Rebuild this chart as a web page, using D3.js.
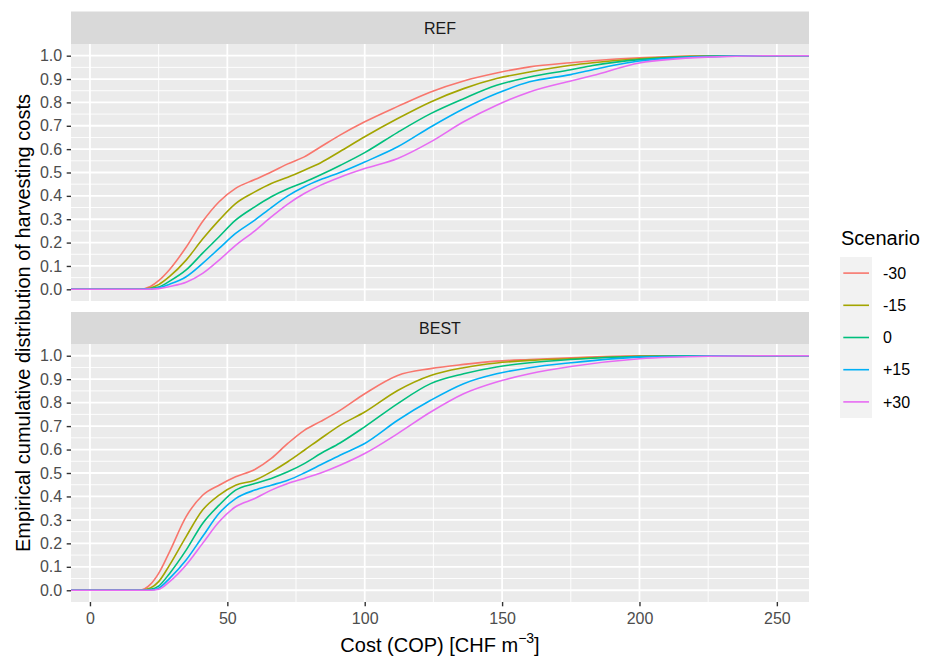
<!DOCTYPE html>
<html>
<head>
<meta charset="utf-8">
<script src="https://cdn.jsdelivr.net/npm/d3@7"></script>
<style>
  body { margin: 0; background: #fff; }
  svg { display: block; font-family: "Liberation Sans", Arial, sans-serif; }
</style>
</head>
<body>
<svg id="chart" width="936" height="659"></svg>
<script>
// ---- data ----
const scenarios = ["-30", "-15", "0", "+15", "+30"];
const colors = ["#F8766D", "#A3A500", "#00BF7D", "#00B0F6", "#E76BF3"];
const panels = ["REF", "BEST"];

const refX = [18, 22, 25, 29, 35, 41, 47, 53, 60, 66, 72, 78, 84, 91, 100, 112, 124, 136, 148, 160, 175, 183, 200, 225, 248];
const refM30 = [0, 0.012, 0.037, 0.085, 0.18, 0.29, 0.375, 0.432, 0.47, 0.502, 0.537, 0.567, 0.61, 0.66, 0.717, 0.783, 0.845, 0.892, 0.926, 0.952, 0.97, 0.978, 0.991, 1.0, 1.0];
const refM15 = [0, 0.006, 0.02, 0.055, 0.125, 0.215, 0.296, 0.367, 0.417, 0.453, 0.48, 0.51, 0.542, 0.59, 0.653, 0.731, 0.802, 0.859, 0.902, 0.93, 0.959, 0.97, 0.987, 0.998, 1.0];
const ref0   = [0, 0.003, 0.01, 0.035, 0.083, 0.155, 0.225, 0.296, 0.353, 0.396, 0.43, 0.458, 0.49, 0.53, 0.585, 0.672, 0.752, 0.816, 0.873, 0.909, 0.94, 0.958, 0.983, 0.997, 1.0];
const refP15 = [0, 0.002, 0.007, 0.022, 0.054, 0.111, 0.175, 0.239, 0.296, 0.35, 0.4, 0.439, 0.47, 0.5, 0.545, 0.61, 0.695, 0.773, 0.838, 0.888, 0.919, 0.94, 0.977, 0.996, 1.0];
const refP30 = [0, 0.001, 0.003, 0.012, 0.03, 0.068, 0.125, 0.188, 0.25, 0.31, 0.365, 0.41, 0.446, 0.48, 0.517, 0.56, 0.631, 0.717, 0.788, 0.845, 0.892, 0.915, 0.969, 0.994, 1.0];

const bestX = [18, 22, 25, 29, 35, 41, 47, 53, 60, 66, 72, 78, 84, 91, 100, 112, 124, 136, 148, 160, 175, 200, 225, 248];
const bestM30 = [0, 0.025, 0.072, 0.165, 0.314, 0.405, 0.448, 0.484, 0.515, 0.562, 0.626, 0.682, 0.72, 0.767, 0.838, 0.916, 0.945, 0.963, 0.977, 0.984, 0.991, 1.0, 1.0, 1.0];
const bestM15 = [0, 0.01, 0.037, 0.108, 0.229, 0.342, 0.406, 0.448, 0.469, 0.505, 0.548, 0.597, 0.647, 0.703, 0.76, 0.852, 0.916, 0.949, 0.969, 0.98, 0.987, 0.998, 1.0, 1.0];
const best0   = [0, 0.004, 0.018, 0.072, 0.171, 0.285, 0.363, 0.427, 0.455, 0.477, 0.505, 0.54, 0.583, 0.628, 0.697, 0.796, 0.881, 0.923, 0.952, 0.97, 0.984, 0.997, 1.0, 1.0];
const bestP15 = [0, 0.001, 0.009, 0.051, 0.129, 0.229, 0.328, 0.391, 0.427, 0.448, 0.469, 0.5, 0.535, 0.576, 0.626, 0.725, 0.81, 0.881, 0.923, 0.949, 0.97, 0.994, 0.999, 1.0];
const bestP30 = [0, 0, 0.004, 0.037, 0.108, 0.2, 0.292, 0.356, 0.391, 0.427, 0.455, 0.477, 0.5, 0.533, 0.583, 0.668, 0.76, 0.838, 0.888, 0.923, 0.954, 0.987, 0.998, 1.0];

const xTicks = [0, 50, 100, 150, 200, 250];
const xMinor = [25, 75, 125, 175, 225];
const yTicks = [0, 0.1, 0.2, 0.3, 0.4, 0.5, 0.6, 0.7, 0.8, 0.9, 1.0];
const yMinor = [0.05, 0.15, 0.25, 0.35, 0.45, 0.55, 0.65, 0.75, 0.85, 0.95];

const panelData = [
  { name: "REF", x: refX, series: [refM30, refM15, ref0, refP15, refP30] },
  { name: "BEST", x: bestX, series: [bestM30, bestM15, best0, bestP15, bestP30] }
];

// ---- layout ----
const svg = d3.select("#chart");
const L = 71, R = 809;
const panelBoxes = [
  { stripTop: 11.5, top: 44, bottom: 301 },
  { stripTop: 312, top: 344, bottom: 602 }
];
const x = d3.scaleLinear().domain([-6.9, 261.7]).range([L, R]);

panelData.forEach((p, i) => {
  const box = panelBoxes[i];
  const y = d3.scaleLinear().domain([-0.05, 1.05]).range([box.bottom, box.top]);
  const g = svg.append("g");

  // strip
  g.append("rect").attr("x", L).attr("y", box.stripTop).attr("width", R - L).attr("height", box.top - box.stripTop).attr("fill", "#D9D9D9");
  g.append("text").attr("x", (L + R) / 2).attr("y", box.top - 9.8).attr("text-anchor", "middle")
    .attr("font-size", 16).attr("fill", "#1A1A1A").text(p.name);

  // panel background
  g.append("rect").attr("x", L).attr("y", box.top).attr("width", R - L).attr("height", box.bottom - box.top).attr("fill", "#EBEBEB");

  // minor grid
  g.selectAll(".ymin").data(yMinor).enter().append("line")
    .attr("x1", L).attr("x2", R).attr("y1", d => y(d)).attr("y2", d => y(d))
    .attr("stroke", "#fff").attr("stroke-width", 0.9);
  g.selectAll(".xmin").data(xMinor).enter().append("line")
    .attr("y1", box.top).attr("y2", box.bottom).attr("x1", d => x(d)).attr("x2", d => x(d))
    .attr("stroke", "#fff").attr("stroke-width", 0.9);
  // major grid
  g.selectAll(".ymaj").data(yTicks).enter().append("line")
    .attr("x1", L).attr("x2", R).attr("y1", d => y(d)).attr("y2", d => y(d))
    .attr("stroke", "#fff").attr("stroke-width", 1.8);
  g.selectAll(".xmaj").data(xTicks).enter().append("line")
    .attr("y1", box.top).attr("y2", box.bottom).attr("x1", d => x(d)).attr("x2", d => x(d))
    .attr("stroke", "#fff").attr("stroke-width", 1.8);

  // y axis
  const yAxis = d3.axisLeft(y).tickValues(yTicks).tickFormat(d3.format(".1f")).tickSize(4.3).tickPadding(4.5);
  const ya = g.append("g").attr("transform", `translate(${L},0)`).call(yAxis);
  ya.select(".domain").remove();
  ya.selectAll("line").attr("stroke", "#333333").attr("stroke-width", 1.4);
  ya.selectAll("text").attr("fill", "#4D4D4D").attr("font-size", 16)
    .attr("font-family", "'Liberation Sans', Arial, sans-serif");

  // x axis only on bottom panel
  if (i === panelData.length - 1) {
    const xAxis = d3.axisBottom(x).tickValues(xTicks).tickFormat(d3.format("d")).tickSize(4.3).tickPadding(6.5);
    const xa = g.append("g").attr("transform", `translate(0,${box.bottom})`).call(xAxis);
    xa.select(".domain").remove();
    xa.selectAll("line").attr("stroke", "#333333").attr("stroke-width", 1.4);
    xa.selectAll("text").attr("fill", "#4D4D4D").attr("font-size", 16)
      .attr("font-family", "'Liberation Sans', Arial, sans-serif");
  }

  // clip
  const clipId = "clip" + i;
  svg.append("clipPath").attr("id", clipId).append("rect")
    .attr("x", L).attr("y", box.top).attr("width", R - L).attr("height", box.bottom - box.top);

  const line = d3.line().x(d => x(d[0])).y(d => y(d[1])).curve(d3.curveMonotoneX);
  const dom = x.domain();
  p.series.forEach((vals, k) => {
    const pts = p.x.map((xv, j) => [xv, vals[j]]);
    // pad like stat_ecdf: extend to -Inf at 0 and +Inf at 1
    pts.unshift([dom[0], 0]);
    pts.push([dom[1], 1]);
    g.append("path").attr("clip-path", `url(#${clipId})`)
      .attr("d", line(pts)).attr("fill", "none")
      .attr("stroke", colors[k]).attr("stroke-width", 1.6);
  });
});

// axis titles
svg.append("text")
  .attr("transform", `translate(30,323) rotate(-90)`)
  .attr("text-anchor", "middle").attr("font-size", 20).attr("fill", "#000")
  .text("Empirical cumulative distribution of harvesting costs");

const xt = svg.append("text").attr("x", (L + R) / 2).attr("y", 652)
  .attr("text-anchor", "middle").attr("font-size", 20).attr("fill", "#000");
xt.append("tspan").text("Cost (COP) [CHF m");
xt.append("tspan").attr("font-size", 14).attr("dy", -9).text("\u22123");
xt.append("tspan").attr("dy", 9).text("]");

// legend
const lg = svg.append("g");
lg.append("text").attr("x", 841).attr("y", 245).attr("font-size", 20).attr("fill", "#000").text("Scenario");
const keyTop = 257, keyH = 32.2;
lg.append("rect").attr("x", 840).attr("y", keyTop).attr("width", 32).attr("height", keyH * scenarios.length).attr("fill", "#F2F2F2");
scenarios.forEach((s, k) => {
  const cy = keyTop + keyH * (k + 0.5);
  lg.append("line").attr("x1", 843.3).attr("x2", 869).attr("y1", cy).attr("y2", cy)
    .attr("stroke", colors[k]).attr("stroke-width", 1.6);
  lg.append("text").attr("x", 883).attr("y", cy).attr("dy", "0.36em").attr("font-size", 16).attr("fill", "#000").text(s);
});
</script>
</body>
</html>
